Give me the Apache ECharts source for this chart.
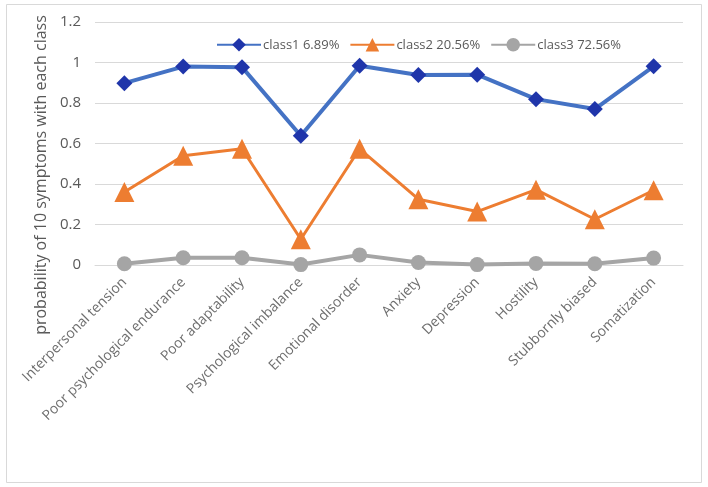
<!DOCTYPE html>
<html>
<head>
<meta charset="utf-8">
<script src="https://cdn.jsdelivr.net/npm/echarts@6/dist/echarts.min.js"></script>
<style>html,body{margin:0;padding:0;background:#fff}#c{width:708px;height:487px}</style>
</head>
<body>
<div id="c"></div>
<script>
const categories = ['Interpersonal tension','Poor psychological endurance','Poor adaptability','Psychological imbalance','Emotional disorder','Anxiety','Depression','Hostility','Stubbornly biased','Somatization'];
const seriesNames = ['class1 6.89%','class2 20.56%','class3 72.56%'];
const class1 = [0.898,0.980,0.977,0.638,0.984,0.938,0.940,0.819,0.770,0.981];
const class2 = [0.360,0.540,0.574,0.127,0.574,0.325,0.264,0.372,0.226,0.369];
const class3 = [0.006,0.036,0.036,0.002,0.050,0.012,0.002,0.008,0.006,0.034];
const yTicks = [0,0.2,0.4,0.6,0.8,1,1.2];
const yTitle = 'probability of 10 symptoms with each class';

const font = 'Open Sans, Noto Sans, sans-serif';
const chart = echarts.init(document.getElementById('c'));
chart.setOption({
  animation:false,
  backgroundColor:'#fff',
  graphic:[
    {type:'rect',shape:{x:6.5,y:4.5,width:695,height:478},style:{fill:'none',stroke:'#D9D9D9',lineWidth:1},z:-1},
    {type:'text',x:41,y:175,rotation:Math.PI/2,style:{text:yTitle,fill:'#595959',font:'16px '+font,align:'center',verticalAlign:'middle'}}
  ],
  legend:{
    top:33, left:211, itemWidth:44, itemHeight:17, itemGap:10,
    textStyle:{color:'#595959',fontSize:13,fontFamily:font,padding:[0,0,0,-3]},
    data:seriesNames
  },
  grid:{left:95,right:25,top:22,bottom:222,containLabel:false},
  xAxis:{
    type:'category', data:categories, boundaryGap:true,
    axisLine:{show:true,lineStyle:{color:'#D9D9D9'}},
    axisTick:{show:false},
    axisLabel:{rotate:45,color:'#6E6E6E',fontSize:14,fontFamily:font,interval:0,margin:15}
  },
  yAxis:{
    type:'value', min:yTicks[0], max:yTicks[yTicks.length-1], interval:0.2,
    axisLine:{show:false}, axisTick:{show:false},
    splitLine:{lineStyle:{color:'#D9D9D9'}},
    axisLabel:{color:'#595959',fontSize:15,fontFamily:font,margin:14,formatter:v=>String(Math.round(v*10)/10)}
  },
  series:[
    {name:seriesNames[0],type:'line',data:class1,symbol:'diamond',symbolSize:16,
     lineStyle:{color:'#4472C4',width:4},itemStyle:{color:'#1F35AA'}},
    {name:seriesNames[1],type:'line',data:class2,symbol:'triangle',symbolSize:20,
     lineStyle:{color:'#ED7D31',width:3},itemStyle:{color:'#ED7D31'}},
    {name:seriesNames[2],type:'line',data:class3,symbol:'circle',symbolSize:15,
     lineStyle:{color:'#A5A5A5',width:4},itemStyle:{color:'#A5A5A5'}}
  ]
});
</script>
</body>
</html>
